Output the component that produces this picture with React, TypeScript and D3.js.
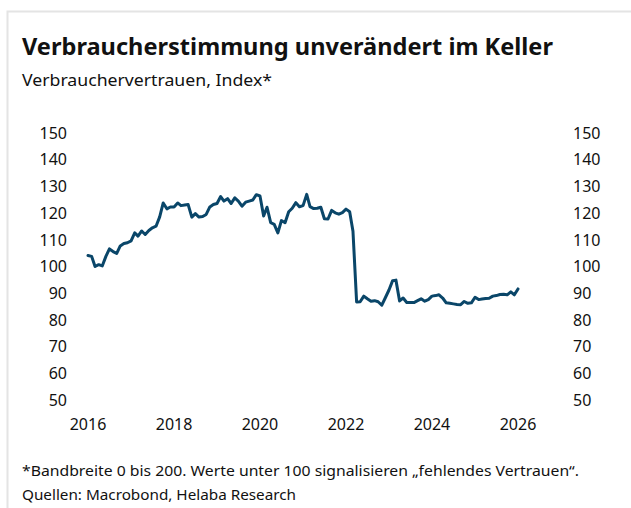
import React from "react";
import * as d3 from "d3";

const startYear = 2016;
const startMonth = 0;
const values: number[] = [
  // 2016
  104.1, 103.8, 100.0, 100.7, 100.2, 103.8, 106.6, 105.6, 104.9, 107.7, 108.6, 108.9,
  // 2017
  109.6, 112.6, 111.4, 113.3, 112.0, 113.5, 114.5, 115.1, 118.6, 123.8, 121.6, 122.3,
  // 2018
  122.3, 123.8, 122.8, 123.0, 123.2, 118.5, 119.8, 118.5, 118.7, 119.5, 122.3, 123.2,
  // 2019
  123.6, 126.2, 124.5, 125.4, 123.6, 125.7, 124.5, 122.6, 124.1, 124.5, 124.9, 126.9,
  // 2020
  126.4, 118.9, 122.2, 116.4, 115.8, 112.6, 117.2, 116.4, 120.5, 121.8, 123.9, 122.4,
  // 2021
  122.8, 127.0, 122.4, 121.7, 121.8, 122.2, 117.9, 117.8, 121.0, 120.1, 119.6, 120.2,
  // 2022
  121.5, 120.5, 113.2, 86.7, 86.8, 88.9, 87.9, 87.0, 87.2, 86.8, 85.5, 88.3,
  // 2023
  91.2, 94.7, 94.9, 87.1, 88.2, 86.5, 86.5, 86.5, 87.2, 87.9, 87.0, 87.6,
  // 2024
  88.9, 89.1, 89.4, 88.2, 86.4, 86.2, 86.0, 85.8, 85.7, 86.9, 86.2, 86.4,
  // 2025
  88.5, 87.6, 87.8, 88.0, 88.1, 88.9, 89.1, 89.5, 89.6, 89.4, 90.5, 89.4,
  // 2026
  91.6,
];

const yTicks = [50, 60, 70, 80, 90, 100, 110, 120, 130, 140, 150];
const xTickYears = [2016, 2018, 2020, 2022, 2024, 2026];

const title = "Verbraucherstimmung unverändert im Keller";
const subtitle = "Verbrauchervertrauen, Index*";
const footnote1 = "*Bandbreite 0 bis 200. Werte unter 100 signalisieren „fehlendes Vertrauen“.";
const footnote2 = "Quellen: Macrobond, Helaba Research";

const FONT = "'Noto Sans', 'Open Sans', sans-serif";

export default function App() {
  const W = 631;
  const H = 508;
  const data = values.map((v, i) => ({
    date: new Date(startYear, startMonth + i, 1),
    v,
  }));

  const x = d3
    .scaleTime()
    .domain([new Date(2016, 0, 1), new Date(2026, 0, 1)])
    .range([88, 518]);
  const y = d3.scaleLinear().domain([50, 150]).range([400, 133]);

  const line = d3
    .line<{ date: Date; v: number }>()
    .x((d) => x(d.date))
    .y((d) => y(d.v));

  return (
    <svg
      width={W}
      height={H}
      style={{ position: "absolute", left: 0, top: 0, background: "#fff" }}
    >
      <path
        d={`M7.5,${H} L7.5,11.5 L${W},11.5`}
        fill="none"
        stroke="#e4e4e4"
        strokeWidth={2}
      />
      <text
        x={22}
        y={55}
        fontFamily={FONT}
        fontWeight="bold"
        fontSize={24}
        fill="#111"
        textLength={531}
        lengthAdjust="spacingAndGlyphs"
      >
        {title}
      </text>
      <text
        x={22}
        y={86}
        fontFamily={FONT}
        fontSize={17}
        fill="#111"
        textLength={250}
        lengthAdjust="spacingAndGlyphs"
      >
        {subtitle}
      </text>

      {yTicks.map((t) => (
        <g key={t}>
          <text
            x={67}
            y={y(t)}
            dy="0.36em"
            textAnchor="end"
            fontFamily={FONT}
            fontSize={16}
            fill="#111"
          >
            {t}
          </text>
          <text
            x={573}
            y={y(t)}
            dy="0.36em"
            fontFamily={FONT}
            fontSize={16}
            fill="#111"
          >
            {t}
          </text>
        </g>
      ))}

      {xTickYears.map((yr) => (
        <text
          key={yr}
          x={x(new Date(yr, 0, 1))}
          y={424}
          dy="0.36em"
          textAnchor="middle"
          fontFamily={FONT}
          fontSize={16}
          fill="#111"
        >
          {yr}
        </text>
      ))}

      <path
        d={line(data) || ""}
        fill="none"
        stroke="#0a4669"
        strokeWidth={3}
        strokeLinejoin="round"
        strokeLinecap="round"
      />

      <text
        x={22}
        y={476}
        fontFamily={FONT}
        fontSize={15}
        fill="#111"
        textLength={557}
        lengthAdjust="spacingAndGlyphs"
      >
        {footnote1}
      </text>
      <text
        x={22}
        y={500}
        fontFamily={FONT}
        fontSize={15}
        fill="#111"
        textLength={274}
        lengthAdjust="spacingAndGlyphs"
      >
        {footnote2}
      </text>
    </svg>
  );
}
